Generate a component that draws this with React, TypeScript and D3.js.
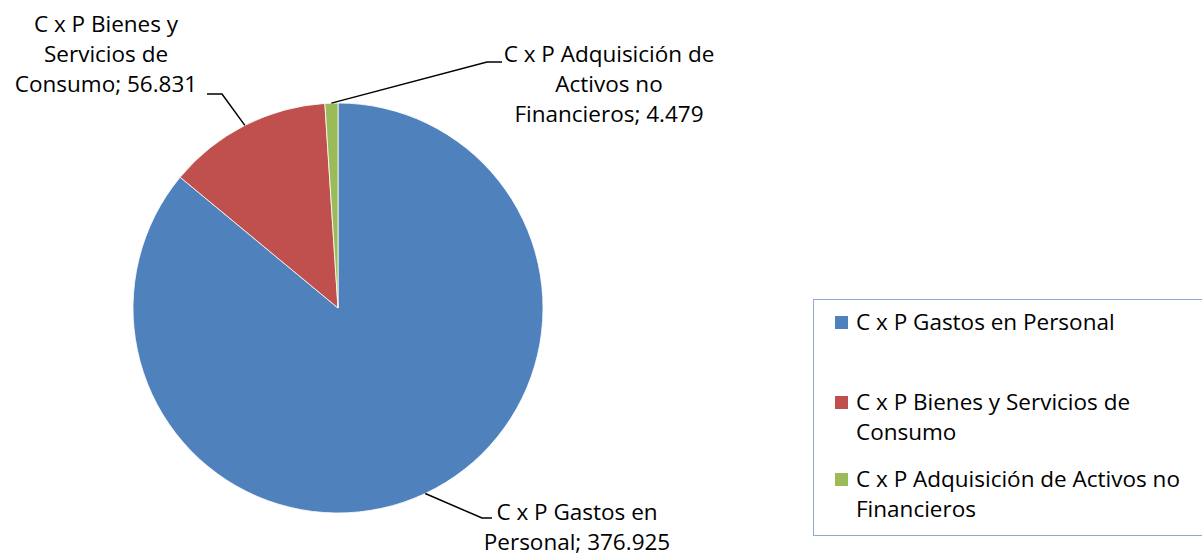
import React, { useEffect, useRef } from "react";
import * as d3 from "d3";

const categories = [
  "C x P Gastos en Personal",
  "C x P Bienes y Servicios de Consumo",
  "C x P Adquisición de Activos no Financieros",
];
const values = [376.925, 56.831, 4.479];
const valueLabels = ["376.925", "56.831", "4.479"];
const colors = ["#4F81BD", "#C0504D", "#9BBB59"];

// data label lines (text wrapping as in the reference)
const dataLabelLines = [
  ["C x P Gastos en", "Personal; 376.925"],
  ["C x P Bienes y", "Servicios de", "Consumo; 56.831"],
  ["C x P Adquisición de", "Activos no", "Financieros; 4.479"],
];
const legendLines = [
  ["C x P Gastos en Personal"],
  ["C x P Bienes y Servicios de", "Consumo"],
  ["C x P Adquisición de Activos no", "Financieros"],
];

const W = 1202;
const H = 556;
const FONT = "'Open Sans', 'Noto Sans', sans-serif";
const FS = 22.5;

export default function App() {
  const ref = useRef<SVGSVGElement>(null);

  useEffect(() => {
    const svg = d3.select(ref.current);
    svg.selectAll("*").remove();

    const cx = 338, cy = 308, r = 205;
    const g = svg.append("g").attr("transform", `translate(${cx},${cy})`);

    const pie = d3.pie<number>().sort(null).value((d) => d);
    const arcs = pie(values);
    const arc = d3.arc<d3.PieArcDatum<number>>().innerRadius(0).outerRadius(r);

    g.selectAll("path.slice")
      .data(arcs)
      .join("path")
      .attr("class", "slice")
      .attr("d", arc)
      .attr("fill", (_, i) => colors[i])
      .attr("stroke", "#ffffff")
      .attr("stroke-width", 0.8);

    const labelLayout = [
      { elbow: [482 - cx, 518 - cy], end: [492 - cx, 518 - cy], tx: 577 - cx, ty: 520 - cy },
      { elbow: [222 - cx, 94 - cy], end: [207 - cx, 94 - cy], tx: 106 - cx, ty: 32 - cy },
      { elbow: [502 - cx, 62 - cy], end: [487 - cx, 62 - cy], tx: 609 - cx, ty: 62 - cy },
    ];

    arcs.forEach((a, i) => {
      const mid = (a.startAngle + a.endAngle) / 2;
      const sx = r * Math.sin(mid);
      const sy = -r * Math.cos(mid);
      const L = labelLayout[i];
      const pts: [number, number][] =
        i === 2
          ? [[sx, sy], [L.end[0], L.end[1]], [L.elbow[0], L.elbow[1]]]
          : [[sx, sy], [L.elbow[0], L.elbow[1]], [L.end[0], L.end[1]]];
      g.append("path")
        .attr("d", d3.line()(pts) as string)
        .attr("fill", "none")
        .attr("stroke", "#000")
        .attr("stroke-width", 1.5);

      const t = g
        .append("text")
        .attr("text-anchor", "middle")
        .attr("font-family", FONT)
        .attr("font-size", FS)
        .attr("fill", "#000");
      dataLabelLines[i].forEach((line, j) => {
        t.append("tspan").attr("x", L.tx).attr("y", L.ty + j * 30).text(line);
      });
    });

    // legend
    const lg = svg.append("g");
    lg.append("rect")
      .attr("x", 813.5)
      .attr("y", 299.5)
      .attr("width", 400)
      .attr("height", 236)
      .attr("fill", "#fff")
      .attr("stroke", "#8FAAD0")
      .attr("stroke-width", 1);
    const legendY = [330, 410, 487];
    categories.forEach((_, i) => {
      lg.append("rect")
        .attr("x", 835)
        .attr("y", legendY[i] - 14)
        .attr("width", 13)
        .attr("height", 13)
        .attr("fill", colors[i]);
      const t = lg
        .append("text")
        .attr("font-family", FONT)
        .attr("font-size", FS)
        .attr("fill", "#000");
      legendLines[i].forEach((line, j) => {
        t.append("tspan").attr("x", 856).attr("y", legendY[i] + j * 30).text(line);
      });
    });
  }, []);

  return (
    <svg
      ref={ref}
      width={W}
      height={H}
      style={{ position: "absolute", left: 0, top: 0, background: "#fff" }}
      data-values={valueLabels.join(",")}
    />
  );
}
